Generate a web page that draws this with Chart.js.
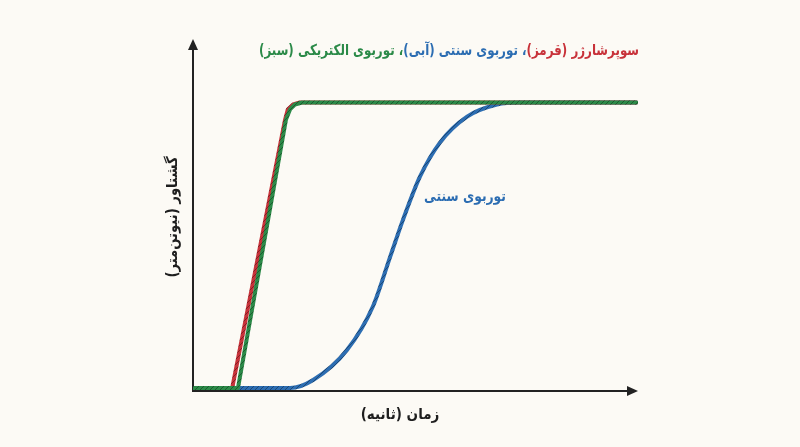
<!DOCTYPE html>
<html>
<head>
<meta charset="utf-8">
<script src="https://cdn.jsdelivr.net/npm/chart.js@4/dist/chart.umd.min.js"></script>
<style>
  html, body { margin: 0; padding: 0; background: #fcfaf5; }
  #wrap { width: 800px; height: 447px; }
</style>
</head>
<body>
<div id="wrap"><canvas id="torque"></canvas></div>
<script>
// time (s) / torque (N.m) points
const turboX = [0, 2.18, 2.70, 3.46, 4.04, 4.43, 4.72, 5.10, 5.55, 6.16, 6.83, 7.35, 9.96]
const turboY = [1, 1, 3.8, 14.2, 29.2, 46.5, 59.4, 74.3, 86.1, 95.1, 99.3, 100, 100]
const superX = [0, 0.88, 2.07, 2.13, 2.25, 2.40, 9.96]
const superY = [1, 1, 94.1, 97.6, 99.3, 100, 100]
const electricX = [0, 1.01, 2.09, 2.18, 2.29, 2.45, 9.96]
const electricY = [1, 1, 94.1, 97.6, 99.3, 100, 100]

const titleParts = ["سوپرشارژر (قرمز)\u200F", "، توربوی سنتی (آبی)\u200F", "، توربوی الکتریکی (سبز)\u200F"]
const xLabel = "زمان (ثانیه)\u200F"
const yLabel = "گشتاور (نیوتن‌متر)\u200F"
const curveLabel = "توربوی سنتی"

const RED = "#c8323a", BLUE = "#2c6db2", GREEN = "#2b8a48"
const FONT = "'DejaVu Sans', sans-serif"

// striped stroke like the reference lines
function hatch(color) {
      const c = document.createElement("canvas")
      c.width = 5; c.height = 5
      const g = c.getContext("2d")
      g.fillStyle = color
      g.fillRect(0, 0, 5, 5)
      g.strokeStyle = "rgba(0,0,0,0.35)"
      g.lineWidth = 1
      g.beginPath()
      g.moveTo(0, 5); g.lineTo(5, 0)
      g.moveTo(-1, 1); g.lineTo(1, -1)
      g.moveTo(4, 6); g.lineTo(6, 4)
      g.stroke()
      return g.createPattern(c, "repeat")
}

function pts(xs, ys) { return xs.map((x, i) => ({x: x, y: ys[i]})) }

// DejaVu is wider than the reference face, so squeeze text horizontally
function squeezed(ctx, text, cx, cy, sx) {
      ctx.save()
      ctx.translate(cx, cy)
      ctx.scale(sx, 1)
      ctx.fillText(text, 0, 0)
      ctx.restore()
}

const axesAndText = {
      id: "axesAndText",
      beforeDatasetsDraw(chart) {
            const {ctx, chartArea: a} = chart
            ctx.save()
            ctx.strokeStyle = "#222"; ctx.fillStyle = "#222"; ctx.lineWidth = 2
            ctx.beginPath()
            ctx.moveTo(a.left, a.top + 6); ctx.lineTo(a.left, a.bottom)
            ctx.lineTo(a.right - 6, a.bottom)
            ctx.stroke()
            // arrow heads
            ctx.beginPath()
            ctx.moveTo(a.left, a.top); ctx.lineTo(a.left - 5, a.top + 11); ctx.lineTo(a.left + 5, a.top + 11); ctx.closePath()
            ctx.fill()
            ctx.beginPath()
            ctx.moveTo(a.right, a.bottom); ctx.lineTo(a.right - 11, a.bottom - 5); ctx.lineTo(a.right - 11, a.bottom + 5); ctx.closePath()
            ctx.fill()
            ctx.restore()
      },
      afterDraw(chart) {
            const {ctx} = chart
            ctx.save()
            ctx.direction = "rtl"
            ctx.textBaseline = "middle"
            ctx.font = "bold 15px " + FONT
            // title, coloured part by part from the right, fitted to 380px
            const cols = [RED, BLUE, GREEN]
            const total = titleParts.reduce((s, t) => s + ctx.measureText(t).width, 0)
            const sx = 380 / total
            ctx.textAlign = "right"
            let x = 639
            titleParts.forEach((t, i) => {
                  ctx.fillStyle = cols[i]
                  squeezed(ctx, t, x, 51, sx)
                  x -= ctx.measureText(t).width * sx
            })
            ctx.textAlign = "center"
            ctx.fillStyle = BLUE
            squeezed(ctx, curveLabel, 465, 197, 0.82)
            ctx.fillStyle = "#1e1e1e"
            squeezed(ctx, xLabel, 400, 415, 0.9)
            ctx.translate(173, 217)
            ctx.rotate(-Math.PI / 2)
            squeezed(ctx, yLabel, 0, 0, 0.88)
            ctx.restore()
      }
}

function line(label, data, color, order, smooth) {
      return {label: label, data: data, borderColor: hatch(color), borderWidth: 4, pointRadius: 0,
              cubicInterpolationMode: smooth ? "monotone" : "default", tension: smooth ? 0.4 : 0,
              borderCapStyle: "round", borderJoinStyle: "round", order: order, fill: false}
}

new Chart("torque", {
      type: "line",
      data: {datasets: [
            line("سوپرشارژر", pts(superX, superY), RED, 1, false),
            line("توربوی سنتی", pts(turboX, turboY), BLUE, 2, true),
            line("توربوی الکتریکی", pts(electricX, electricY), GREEN, 0, false)
      ]},
      options: {
            responsive: true, maintainAspectRatio: false, animation: false,
            layout: {padding: {left: 193, right: 162, top: 39, bottom: 56}},
            scales: {
                  x: {type: "linear", min: 0, max: 10, display: false},
                  y: {min: 0, max: 122, display: false}
            },
            plugins: {legend: {display: false}, tooltip: {enabled: false}}
      },
      plugins: [axesAndText]
})
</script>
</body>
</html>
